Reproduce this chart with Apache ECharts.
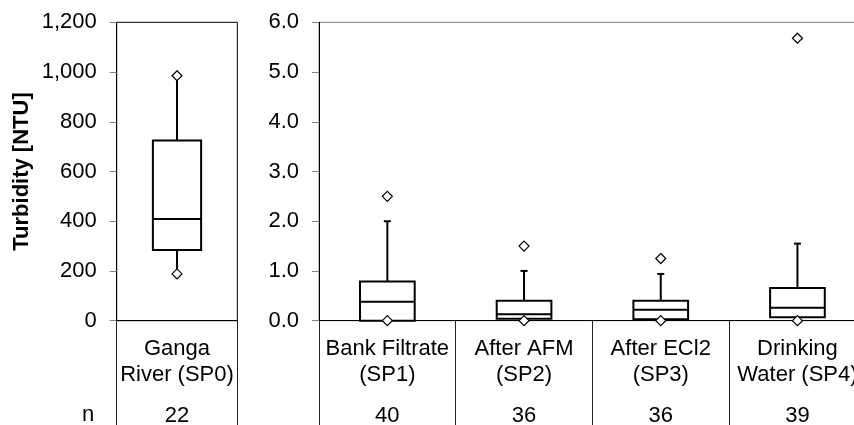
<!DOCTYPE html>
<html>
<head>
<meta charset="utf-8">
<script src="https://cdn.jsdelivr.net/npm/echarts@6/dist/echarts.min.js"></script>
<style>
  html, body { margin: 0; padding: 0; background: #fff; overflow: hidden; }
  #chart { width: 854px; height: 425px; }
</style>
</head>
<body>
<div id="chart"></div>
<script>
// Sampling points: river on its own scale, treatment steps on a second scale
const riverCategories = ['Ganga\nRiver (SP0)'];
const plantCategories = ['Bank Filtrate\n(SP1)', 'After AFM\n(SP2)', 'After ECl2\n(SP3)', 'Drinking\nWater (SP4)'];

// Box statistics per site: [low whisker, Q1, median, Q3, high whisker]
const riverBoxes = [[188, 284, 409, 725, 985]];
const plantBoxes = [
  [0, 0, 0.38, 0.79, 2.0],
  [0, 0.04, 0.13, 0.40, 1.0],
  [0, 0.03, 0.22, 0.40, 0.94],
  [0, 0.07, 0.26, 0.66, 1.55]
];

// Minimum and maximum observed values per site
const riverMin = [188];
const riverMax = [985];
const plantMin = [0, 0, 0, 0];
const plantMax = [2.5, 1.5, 1.25, 5.68];

// Sample counts
const riverN = ['22'];
const plantN = ['40', '36', '36', '39'];

// Tick values
const riverTicks = { min: 0, max: 1200, step: 200 };
const plantTicks = { min: 0, max: 6, step: 1 };

const FONT = '"Liberation Sans", Arial, sans-serif';
const FS = 22;

function boxRenderer(params, api) {
  const i = api.value(0);
  const low = api.coord([i, api.value(1)]);
  const q1 = api.coord([i, api.value(2)]);
  const med = api.coord([i, api.value(3)]);
  const q3 = api.coord([i, api.value(4)]);
  const high = api.coord([i, api.value(5)]);
  const cx = low[0];
  const bw = api.size([1, 0])[0] * 0.4;
  const cap = 3.5;
  const line = { stroke: '#000', lineWidth: 2, fill: null };
  return {
    type: 'group',
    children: [
      { type: 'line', shape: { x1: cx, y1: q3[1], x2: cx, y2: high[1] }, style: line },
      { type: 'line', shape: { x1: cx, y1: q1[1], x2: cx, y2: low[1] }, style: line },
      { type: 'line', shape: { x1: cx - cap, y1: high[1], x2: cx + cap, y2: high[1] }, style: line },
      { type: 'line', shape: { x1: cx - cap, y1: low[1], x2: cx + cap, y2: low[1] }, style: line },
      { type: 'rect', shape: { x: cx - bw / 2, y: q3[1], width: bw, height: q1[1] - q3[1] },
        style: { stroke: '#000', lineWidth: 2, fill: '#fff' } },
      { type: 'line', shape: { x1: cx - bw / 2, y1: med[1], x2: cx + bw / 2, y2: med[1] }, style: line }
    ]
  };
}

function toBoxData(boxes) {
  return boxes.map((b, i) => [i].concat(b));
}
function toPoints(vals) {
  return vals.map((v, i) => [i, v]);
}

const catAxisBase = {
  type: 'category',
  position: 'bottom',
  boundaryGap: true,
  axisLine: { show: true, onZero: false, lineStyle: { color: '#000', width: 1 } },
  axisTick: { show: true, alignWithLabel: false, interval: 0, length: 110, lineStyle: { color: '#222', width: 1 } },
  axisLabel: { interval: 0, margin: 15, color: '#000', fontSize: FS, lineHeight: 26, fontFamily: FONT, align: 'center' },
  splitLine: { show: false }
};
const countAxisBase = {
  type: 'category',
  position: 'bottom',
  axisLine: { show: false },
  axisTick: { show: false },
  axisLabel: { interval: 0, margin: 84, color: '#000', fontSize: FS, lineHeight: 22, fontFamily: FONT },
  splitLine: { show: false }
};
const valAxisBase = {
  type: 'value',
  axisLine: { show: true, lineStyle: { color: '#000', width: 1 } },
  axisTick: { show: true, length: 7, lineStyle: { color: '#808080', width: 1 } },
  axisLabel: { margin: 20, color: '#000', fontSize: FS, fontFamily: FONT },
  splitLine: { show: false }
};

const diamond = {
  type: 'scatter',
  symbol: 'diamond',
  symbolSize: 10,
  itemStyle: { color: '#ffffff', opacity: 1, borderColor: '#000', borderWidth: 1.2 },
  emphasis: { disabled: true },
  z: 5,
  silent: true
};

const option = {
  animation: false,
  backgroundColor: '#fff',
  grid: [
    { left: 116.7, top: 22.3, width: 120.6, height: 298.4, outerBoundsMode: 'none', containLabel: false,
      show: true, borderColor: '#000', borderWidth: 1, backgroundColor: 'transparent' },
    { left: 319, top: 22.3, width: 546.8, height: 298.4, outerBoundsMode: 'none', containLabel: false,
      show: true, borderColor: '#808080', borderWidth: 1, backgroundColor: 'transparent' }
  ],
  xAxis: [
    Object.assign({}, catAxisBase, { gridIndex: 0, data: riverCategories }),
    Object.assign({}, catAxisBase, { gridIndex: 1, data: plantCategories }),
    Object.assign({}, countAxisBase, { gridIndex: 0, data: riverN }),
    Object.assign({}, countAxisBase, { gridIndex: 1, data: plantN })
  ],
  yAxis: [
    Object.assign({}, valAxisBase, {
      gridIndex: 0, min: riverTicks.min, max: riverTicks.max, interval: riverTicks.step,
      axisLabel: Object.assign({}, valAxisBase.axisLabel, {
        formatter: v => v.toLocaleString('en-US')
      }),
      name: 'Turbidity [NTU]',
      nameLocation: 'middle',
      nameGap: 84,
      nameTextStyle: { fontSize: FS, fontWeight: 'bold', color: '#000', fontFamily: FONT }
    }),
    Object.assign({}, valAxisBase, {
      gridIndex: 1, min: plantTicks.min, max: plantTicks.max, interval: plantTicks.step,
      axisLabel: Object.assign({}, valAxisBase.axisLabel, {
        formatter: v => v.toFixed(1)
      })
    })
  ],
  graphic: [
    {
      type: 'text', left: 82, top: 404,
      style: { text: 'n', fontSize: FS, fontFamily: FONT, fill: '#000' }
    }
  ],
  series: [
    {
      type: 'custom', xAxisIndex: 0, yAxisIndex: 0, clip: false,
      renderItem: boxRenderer, encode: { x: 0, y: [1, 2, 3, 4, 5] },
      data: toBoxData(riverBoxes), z: 3
    },
    {
      type: 'custom', xAxisIndex: 1, yAxisIndex: 1, clip: false,
      renderItem: boxRenderer, encode: { x: 0, y: [1, 2, 3, 4, 5] },
      data: toBoxData(plantBoxes), z: 3
    },
    Object.assign({}, diamond, { xAxisIndex: 0, yAxisIndex: 0, data: toPoints(riverMin).concat(toPoints(riverMax)) }),
    Object.assign({}, diamond, { xAxisIndex: 1, yAxisIndex: 1, data: toPoints(plantMin).concat(toPoints(plantMax)) })
  ]
};

const chart = echarts.init(document.getElementById('chart'), null, { renderer: 'canvas' });
chart.setOption(option);
</script>
</body>
</html>
